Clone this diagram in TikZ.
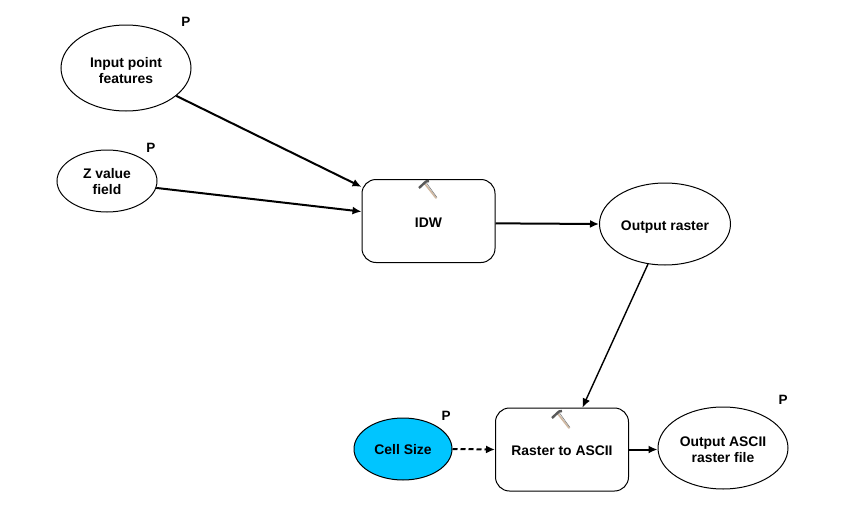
\documentclass[tikz,border=0pt]{standalone}
\usepackage{fontspec}
\setmainfont{Liberation Sans}
\usetikzlibrary{shapes.geometric,arrows.meta}
\definecolor{cellblue}{RGB}{0,197,255}
\tikzset{
  lbl/.style={font=\bfseries\fontsize{13.9}{16}\selectfont,align=center,text=black},
  plabel/.style={font=\bfseries\fontsize{13.5}{15}\selectfont,inner sep=0pt,text=black},
  data/.style={draw=black,line width=1pt,ellipse,inner sep=0pt,lbl},
  tool/.style={draw=black,line width=1pt,rounded corners=14pt,minimum width=133pt,minimum height=83pt,inner sep=0pt,lbl},
  conn/.style={draw=black,line width=1.4pt,-{Latex[length=9pt,width=8pt]}},
  connb/.style={conn,line width=2pt},
  connd/.style={conn,line width=2pt,dash pattern=on 5pt off 3pt},
}
\newcommand{\hammerat}[1]{%
  \begin{scope}[shift={(#1)}]
    \draw[line width=1.7pt,draw=black!20!brown!45!white,line cap=round] (0,0) -- (11,14);
    \draw[line width=0.5pt,draw=black!55] (1.5,-1) -- (12,13.5);
    \draw[line width=2.4pt,draw=black!65] (-6,4) -- (1,-2.5) -- (4,-3);
  \end{scope}}
\begin{document}
\begin{tikzpicture}[x=1pt,y=-1pt]
\useasboundingbox (0,0) rectangle (863,530);
\fill[white] (0,0) rectangle (863,530);
\node[data,minimum width=130pt,minimum height=86pt] (ipf) at (126,68) {\rule{0pt}{16pt}Input point\\features};
\node[data,minimum width=100pt,minimum height=62pt] (zv) at (107,181) {\rule{0pt}{12pt}Z value\\field};
\node[tool] (idw) at (428.5,221) {\rule{0pt}{12pt}IDW};
\node[data,minimum width=131pt,minimum height=82pt] (or) at (665,224) {\rule{0pt}{15pt}Output raster};
\node[data,fill=cellblue,minimum width=98pt,minimum height=62pt] (cs) at (403,449) {\rule{0pt}{12pt}Cell Size};
\node[tool] (r2a) at (562,449.5) {\rule{0pt}{12pt}Raster to ASCII};
\node[data,minimum width=130pt,minimum height=82pt] (oa) at (723,448) {\rule{0pt}{13pt}Output ASCII\\raster file};
\node[plabel] (p1) at (186,22) {P};
\node[plabel] (p2) at (151,148) {P};
\node[plabel] (p3) at (446,416) {P};
\node[plabel] (p4) at (783,400) {P};
\hammerat{425,184}
\hammerat{558,414}
\draw[connb] (ipf.-29) -- (idw.153.6);
\draw[connb] (zv.-8) -- (idw.172.3);
\draw[connb] (idw.-2) -- (or.west);
\draw[conn] (or.-113.2) -- (r2a.64.3);
\draw[connd] (cs.east) -- (r2a.west);
\draw[connb] (r2a.east) -- (oa.west|-r2a.east);
\end{tikzpicture}
\end{document}
